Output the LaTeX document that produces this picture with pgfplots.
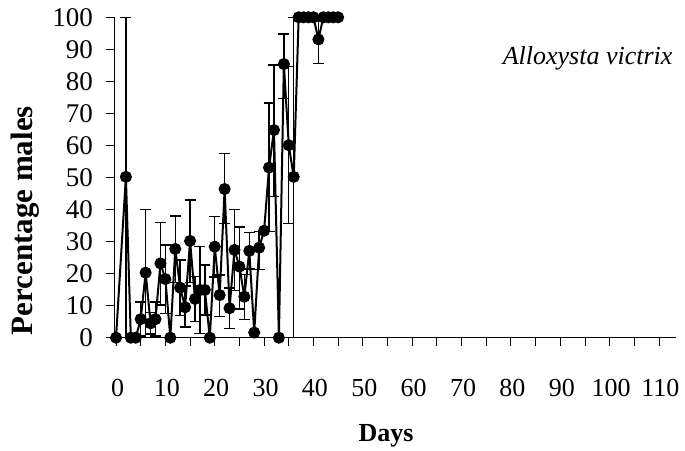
\documentclass[border=0pt]{standalone}
\usepackage{fontspec}
\setmainfont{Liberation Serif}
\usepackage{pgfplots}
\usepackage{pgfplotstable}
\pgfplotsset{compat=1.18}
\pgfplotstableread{
x y ep em
0 0 0 0
2 50.2 49.8 50.2
3 0 0 0
4 0 0 0
5 5.8 5.3 5.3
6 20.3 19.7 20.3
7 4.5 3.3 3.3
8 5.8 5.3 5.3
9 23.2 12.7 13
10 18.3 10.6 10.7
11 0 0 0
12 27.7 10.3 10.5
13 15.6 8.7 8.7
14 9.5 6.6 6.1
15 30.2 12.8 13
16 12.1 7 7
17 14.9 13.5 13.5
18 14.9 7.8 7.8
19 0 0 0
20 28.4 9.4 9.4
21 13.3 6.3 6.7
22 46.4 11.1 10.7
23 9.2 6.3 6.3
24 27.4 12.6 12.6
25 22.2 12.4 13.3
26 12.8 7 7.1
27 27.1 5.7 5.7
28 1.6 0 0
29 28.1 5 6.8
30 33.4 0 0
31 53.1 20.2 20
32 64.8 20.3 20.8
33 0 0 0
34 85.4 9.4 10.7
35 60.1 24.5 24.4
36 50.2 49.8 50.2
37 100 0 0
38 100 0 0
39 100 0 0
40 100 0 0
41 93.1 6.9 7.5
42 100 0 0
43 100 0 0
44 100 0 0
45 100 0 0
}\datatable
\begin{document}
\begin{tikzpicture}
\useasboundingbox (-114.3pt,-112.3pt) rectangle (570.7pt,337.7pt);
\begin{axis}[
  scale only axis, width=561.7pt, height=320.4pt,
  at={(0,0)}, anchor=south west,
  xmin=-0.35, xmax=113.45, ymin=0, ymax=100,
  axis x line=bottom, axis y line=left,
  axis line style={-, black, line width=0.9pt},
  xtick={0,10,...,110}, minor xtick={5,15,...,105},
  ytick={0,10,...,100},
  tick align=outside, major tick length=8pt, minor tick length=8pt,
  every tick/.style={black, line width=0.8pt},
  minor tick style={black, line width=0.8pt},
  /pgf/number format/assume math mode=true,
  xticklabel style={font=\fontsize{26}{30}\selectfont, anchor=north, yshift=-30pt, xshift=1.5pt},
  yticklabel style={font=\fontsize{27}{30}\selectfont, anchor=east, xshift=-10pt},
  xlabel={Days},
  ylabel={Percentage males},
  xlabel style={font=\bfseries\fontsize{26}{30}\selectfont, at={(axis description cs:0.484,0)}, anchor=center, yshift=-98pt},
  ylabel style={font=\bfseries\fontsize{31}{34}\selectfont, at={(axis description cs:0,0.365)}, anchor=center, rotate=0, yshift=89pt},
  clip=false,
]
\addplot[black, line width=2pt, mark=*, mark size=5pt, mark options={fill=black, solid},
  error bars/.cd, y dir=both, y explicit,
  error bar style={black, line width=1.4pt},
  error mark options={rotate=90, mark size=5.5pt, line width=1.4pt, black}]
  table[x=x, y=y, y error plus=ep, y error minus=em]{\datatable};
\node[anchor=east, font=\itshape\fontsize{26}{30}\selectfont] at (axis description cs:1,0.872) {Alloxysta victrix};
\end{axis}
\end{tikzpicture}
\end{document}
